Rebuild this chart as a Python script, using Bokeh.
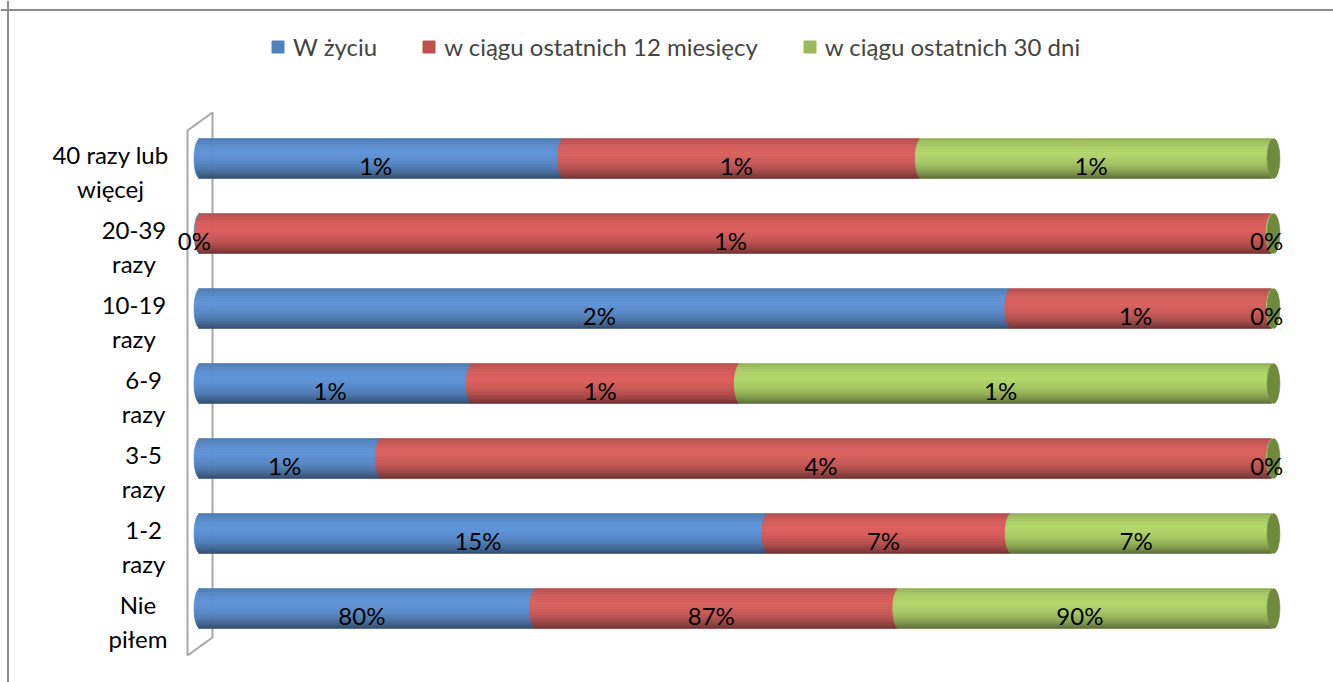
import numpy as np
from bokeh.plotting import figure
from bokeh.models import ColumnDataSource, Range1d, Legend, LegendItem, Span
from bokeh.core.properties import value
from bokeh.embed import file_html
from bokeh.resources import INLINE

# ---------------- data ----------------
categories = ["Nie\npiłem", "1-2\nrazy", "3-5\nrazy", "6-9\nrazy",
              "10-19\nrazy", "20-39\nrazy", "40 razy lub\nwięcej"]
series_names = ["W życiu", "w ciągu ostatnich 12 miesięcy", "w ciągu ostatnich 30 dni"]
w_zyciu = [80.4, 15.4, 0.8, 0.71, 2.2, 0.0005, 0.62]
w_12_miesiecy = [86.9, 6.6, 3.93, 0.70, 0.71, 0.6, 0.61]
w_30_dni = [89.6, 7.1, 0.002, 1.39, 0.0015, 0.0005, 0.60]

# ---------------- style ----------------
legend_colors = ["#4F81BD", "#C0504D", "#9BBB59"]
light_colors = [(93, 147, 216), (219, 95, 93), (178, 214, 106)]
cap_color = "#6E8B3D"
FONT = "Lato"
FS = "24px"

W, H = 1333, 682
X0_PX, X_SCALE = 200, 1073       # px of 0% and px per 100%
Y0_PX, ROW_PX = 608, 75          # px of first row and row spacing
BAR_PX = 40
CAP_PX = 6.5

x_range = Range1d(-X0_PX / X_SCALE, (W - X0_PX) / X_SCALE)
y_range = Range1d((Y0_PX - H) / ROW_PX, Y0_PX / ROW_PX)


def pdx(px):  # px -> data x
    return (px - X0_PX) / X_SCALE


def pdy(py):  # px (from top) -> data y
    return (Y0_PX - py) / ROW_PX


p = figure(width=W, height=H, x_range=x_range, y_range=y_range,
           x_axis_type=None, y_axis_type=None, toolbar_location=None,
           output_backend="svg", min_border=0, outline_line_color=None,
           background_fill_color="white", border_fill_color="white")

# chart border (left & top)
p.add_layout(Span(location=pdx(7.5), dimension="height", line_color="#8c8c8c", line_width=2))
p.add_layout(Span(location=pdy(9.5), dimension="width", line_color="#8c8c8c", line_width=2))

# 3D wall on the category side
wall_x = [pdx(v) for v in (187, 187, 212, 212, 187)]
wall_y = [pdy(v) for v in (655, 130, 112, 637, 655)]
p.line(wall_x, wall_y, line_color="#a6a6a6", line_width=2)

# ---------------- cylinders ----------------
vals = np.array([w_zyciu, w_12_miesiecy, w_30_dni], dtype=float)
tot = vals.sum(axis=0)
prop = vals / tot
right = np.cumsum(prop, axis=0)
left = right - prop
rows = np.arange(len(categories))

a = CAP_PX / X_SCALE
h = BAR_PX / ROW_PX
M = 20
tp = [-1.0, -0.9, -0.55, -0.2, 0.2, 0.55, 0.8, 1.0]
fp = [0.80, 0.86, 0.97, 1.00, 0.93, 0.80, 0.66, 0.50]

for s in range(3):
    L_, R_, T_, B_, C_ = [], [], [], [], []
    for k in range(M):
        t = -1 + (2 * k + 1) / M
        off = a * np.sqrt(max(0.0, 1 - t * t))
        f = float(np.interp(t, tp, fp))
        col = "#%02x%02x%02x" % tuple(int(min(255, c * f)) for c in light_colors[s])
        for r in rows:
            L_.append(left[s, r] - off)
            R_.append(right[s, r] - off)
            T_.append(r + h / 2 - k * h / M)
            B_.append(r + h / 2 - (k + 1) * h / M)
            C_.append(col)
    src = ColumnDataSource(dict(left=L_, right=R_, top=T_, bottom=B_, color=C_))
    p.quad(left="left", right="right", top="top", bottom="bottom", source=src,
           fill_color="color", line_color="color", line_width=0.6)

# end caps
p.ellipse(x=right[2], y=rows, width=2 * a, height=h, fill_color=cap_color,
          line_color=cap_color, line_width=0.5)

# data labels
lx, ly, lt = [], [], []
for s in range(3):
    for r in rows:
        lx.append((left[s, r] + right[s, r]) / 2 - a)
        ly.append(r)
        lt.append("%d%%" % int(vals[s, r] + 0.5))
p.text(x=lx, y=ly, text=lt, text_align="center", text_baseline="middle",
       y_offset=7, text_font=value(FONT), text_font_size=FS, text_color="black")

# category labels (block right edge near x=165 px, lines centered)
CW = {c: 13.9 for c in "0123456789"}
CW.update({"-": 7.5, " ": 4.6, "i": 5.5, "j": 5.5, "l": 5.5, "ł": 6.5,
           "m": 19.5, "w": 17.8, "N": 17.8, "r": 8.4})


def text_w(s):
    return sum(CW.get(ch, 11.8) for ch in s)


est_w = [max(text_w(line) for line in c.split("\n")) for c in categories]
cat_src = ColumnDataSource(dict(x=[pdx(165)] * len(categories), y=list(rows),
                                text=categories, xo=[-w / 2 for w in est_w]))
p.text(x="x", y="y", text="text", x_offset="xo", y_offset=13, source=cat_src,
       text_align="center", text_baseline="middle", text_font=value(FONT),
       text_font_size=FS, text_color="black", text_line_height=1.2)

# legend
items = []
for name, col in zip(series_names, legend_colors):
    r = p.quad(left=[np.nan], right=[np.nan], top=[np.nan], bottom=[np.nan],
               fill_color=col, line_color=col)
    items.append(LegendItem(label=name, renderers=[r]))
legend = Legend(items=items, orientation="horizontal", location=(270, 621),
                glyph_width=15, glyph_height=15, label_standoff=8, spacing=44,
                padding=0, margin=0, border_line_color=None, background_fill_alpha=0,
                label_text_font=FONT, label_text_font_size=FS, label_height=24)
p.add_layout(legend)

open("out.html", "w").write(file_html(p, INLINE))
